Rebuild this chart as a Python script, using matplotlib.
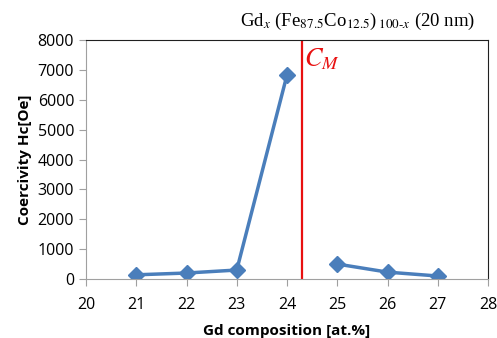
import matplotlib
matplotlib.use("Agg")
import matplotlib.pyplot as plt

gd_low = [21, 22, 23, 24]
hc_low = [140, 200, 300, 6830]
gd_high = [25, 26, 27]
hc_high = [500, 230, 100]
cm_x = 24.3
xticks = [20, 21, 22, 23, 24, 25, 26, 27, 28]
yticks = [0, 1000, 2000, 3000, 4000, 5000, 6000, 7000, 8000]

fig = plt.figure(figsize=(4.97, 3.38), dpi=100)
ax = fig.add_axes([86/497, 1-279/338, (488-86)/497, (279-40)/338])
blue = '#4a7ebb'
for xs, ys in ((gd_low, hc_low), (gd_high, hc_high)):
    ax.plot(xs, ys, color=blue, lw=2.5, marker='D', ms=8, mfc=blue, mec=blue)
ax.axvline(cm_x, color='#e81010', lw=1.6, ymax=0.99, ymin=0)
ax.text(cm_x + 0.03, 7350, r'$C_M$', color='#e81010', fontsize=19,
        va='center', ha='left', math_fontfamily='stix')
ax.set_xlim(20, 28)
ax.set_ylim(0, 8000)
ax.set_xticks(xticks)
ax.set_yticks(yticks)
ax.tick_params(labelsize=11.5, length=5, color='#a0a0a0', direction='out')
for lab in ax.get_xticklabels() + ax.get_yticklabels():
    lab.set_family('Open Sans')
ax.tick_params(axis='x', pad=8)
for s in ('left', 'bottom'):
    ax.spines[s].set_color('#a0a0a0')
for s in ('top', 'right'):
    ax.spines[s].set_color('#202020')
ax.set_xlabel('Gd composition [at.%]', fontsize=11, fontweight='bold', family='Open Sans', labelpad=8)
ax.set_ylabel('Coercivity Hc[Oe]', fontsize=11, fontweight='bold', family='Open Sans', labelpad=4)
fig.text(475/497, 1-32/338,
         'Gd$_{x}$ (Fe$_{87.5}$Co$_{12.5}$)$\\,_{100\u2010x}$ (20 nm)',
         ha='right', va='bottom', fontsize=13.5, family='Liberation Serif', math_fontfamily='stix')
fig.savefig('out.png', dpi=100)
